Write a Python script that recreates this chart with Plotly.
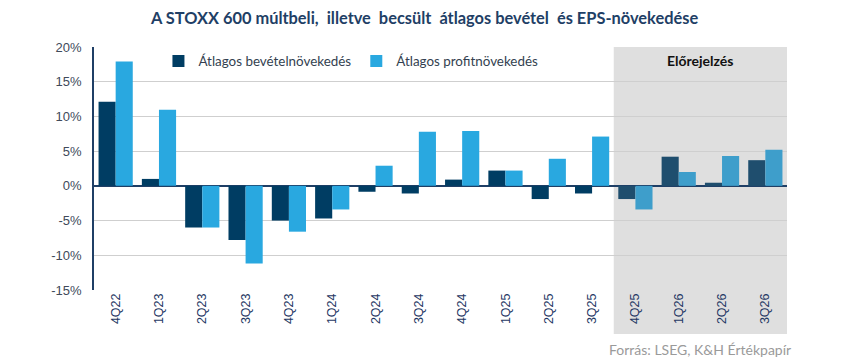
import plotly.graph_objects as go

quarters = ["4Q22", "1Q23", "2Q23", "3Q23", "4Q23", "1Q24", "2Q24", "3Q24",
            "4Q24", "1Q25", "2Q25", "3Q25", "4Q25", "1Q26", "2Q26", "3Q26"]
revenue_growth = [12.1, 1.0, -6.0, -7.8, -5.0, -4.7, -0.85, -1.1,
                  0.9, 2.2, -1.9, -1.1, -1.9, 4.2, 0.45, 3.7]
profit_growth = [17.9, 10.95, -6.0, -11.2, -6.6, -3.4, 2.9, 7.8,
                 7.9, 2.2, 3.9, 7.1, -3.4, 2.0, 4.3, 5.2]
forecast = [False] * 12 + [True] * 4
y_ticks = [20, 15, 10, 5, 0, -5, -10, -15]
y_tick_labels = ["20%", "15%", "10%", "5%", "0%", "-5%", "-10%", "-15%"]

DARK, DARK_F = "#003D63", "#1F4E6E"
LIGHT, LIGHT_F = "#29A8E0", "#3E9ECB"

fig = go.Figure()
fig.add_trace(go.Bar(
    x=quarters, y=revenue_growth, name="Átlagos bevételnövekedés",
    marker=dict(color=[DARK_F if f else DARK for f in forecast], line_width=0),
))
fig.add_trace(go.Bar(
    x=quarters, y=profit_growth, name="Átlagos profitnövekedés",
    marker=dict(color=[LIGHT_F if f else LIGHT for f in forecast], line_width=0),
))

# Forecast background region
fig.add_shape(type="rect", xref="x", yref="paper",
              x0=11.5, x1=15.5, y0=-0.181, y1=1.0,
              fillcolor="#DFDFDF", line_width=0, layer="below")

fig.add_annotation(x=13.5, xref="x", y=0.946, yref="paper", yanchor="middle",
                   text="<b>Előrejelzés</b>", showarrow=False,
                   font=dict(family="Lato", size=14, color="#111111"))

fig.add_annotation(x=1.0088, xref="paper", y=-0.243, yref="paper",
                   xanchor="right", yanchor="middle",
                   text="Forrás: LSEG, K&H Értékpapír", showarrow=False,
                   font=dict(family="Lato", size=14, color="#9A9A9A"))

fig.update_layout(
    width=842, height=351,
    margin=dict(l=86, r=63, t=39, b=69),
    paper_bgcolor="white", plot_bgcolor="rgba(0,0,0,0)",
    barmode="group", bargap=0.21, bargroupgap=0,
    title=dict(text="<b>A STOXX 600 múltbeli,  illetve  becsült  átlagos bevétel  és EPS-növekedése</b>",
               x=0.4947, xanchor="center", y=0.9715, yanchor="middle",
               font=dict(family="Lato", size=16.4, color="#1F3F66")),
    legend=dict(orientation="h", x=0.093, xanchor="left", y=1.005, yanchor="top",
                bgcolor="rgba(0,0,0,0)", itemwidth=30,
                font=dict(family="Lato", size=13.4, color="#333F50"),
                traceorder="normal"),
    showlegend=True,
)
fig.update_xaxes(
    type="category", range=[-0.5, 15.5], tickangle=-90,
    tickfont=dict(family="Liberation Sans", size=12.5, color="#1F3864"),
    showgrid=False, ticks="", showline=False,
)
fig.update_yaxes(
    range=[-15, 20], tickvals=y_ticks, ticktext=y_tick_labels,
    tickfont=dict(family="Liberation Sans", size=13, color="#404A5A"),
    showgrid=True, gridcolor="#CFCFCF", gridwidth=1,
    zeroline=True, zerolinecolor="#1F3F66", zerolinewidth=1.5,
    showline=True, linecolor="#1F3F66", linewidth=1.5,
    ticks="", ticklabelstandoff=8,
)

fig.write_html("out.html")
